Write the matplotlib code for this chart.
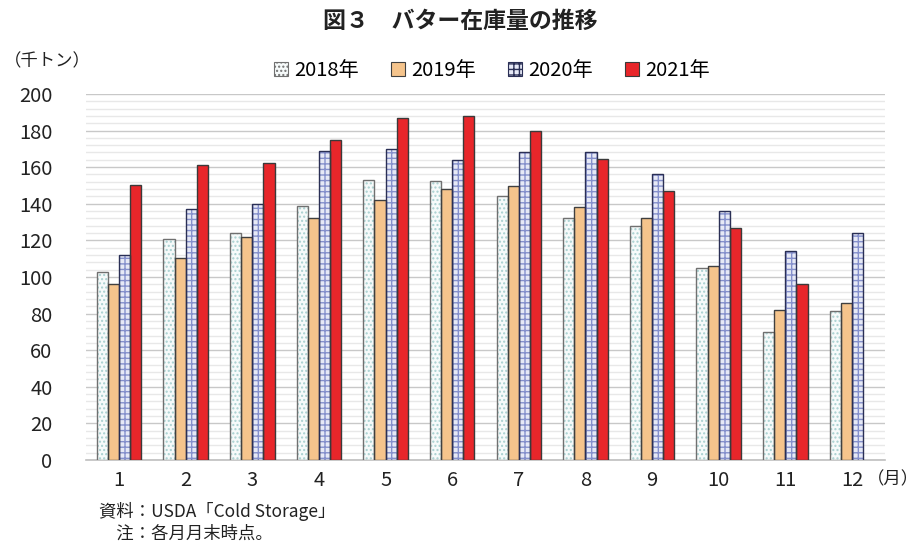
"""
図3 バター在庫量の推移 - 月別棒グラフ
"""

import numpy as np
import matplotlib
matplotlib.use('Agg')
import matplotlib.pyplot as plt
from matplotlib.ticker import MultipleLocator

plt.rcParams['font.family'] = ['Noto Sans CJK JP', 'DejaVu Sans']
plt.rcParams['hatch.linewidth'] = 1.0

# データ (千トン)
months = ['1', '2', '3', '4', '5', '6', '7', '8', '9', '10', '11', '12']
years = ['2018年', '2019年', '2020年', '2021年']
stock_2018 = [102.5, 120.5, 124, 139, 153, 152.5, 144.5, 132, 128, 105, 70, 81.5]
stock_2019 = [96, 110.5, 122, 132, 142, 148, 149.5, 138, 132, 106, 82, 86]
stock_2020 = [112, 137, 140, 169, 170, 164, 168.5, 168.5, 156, 136, 114, 124]
stock_2021 = [150.5, 161, 162, 175, 187, 188, 180, 164.5, 147, 126.5, 96, np.nan]

series = [stock_2018, stock_2019, stock_2020, stock_2021]

# 系列ごとのスタイル (塗り, ハッチ, ハッチ色, 枠線)
styles = [
    dict(face='#f6fafa', hatch='....', hcolor='#a8d0d0', edge='#707070'),
    dict(face='#f5c48c', hatch='', hcolor='#f5c48c', edge='#404040'),
    dict(face='#e6e9f6', hatch='+++', hcolor='#8590cc', edge='#2a2f55'),
    dict(face='#e8262a', hatch='', hcolor='#e8262a', edge='#3a3a3a'),
]

fig = plt.figure(figsize=(9.2, 5.46), dpi=100)
ax = fig.add_axes([0.0932, 0.1575, 0.869, 0.6705])

x = np.arange(1, len(months) + 1)
width = 0.167
offsets = (np.arange(4) - 1.5) * width

for vals, st, off, label in zip(series, styles, offsets, years):
    # ハッチ用 (枠線はハッチ色)
    ax.bar(x + off, vals, width, color=st['face'], hatch=st['hatch'],
           edgecolor=st['hcolor'], linewidth=0, zorder=3)
    # 枠線
    ax.bar(x + off, vals, width, facecolor='none', edgecolor=st['edge'],
           linewidth=1.0, zorder=4)
    # 凡例用のダミー
    ax.bar([0], [0], 0, facecolor=st['face'], hatch=st['hatch'],
           edgecolor=st['edge'], linewidth=0.8, label=label)

ax.set_xlim(0.5, 12.5)
ax.set_ylim(0, 200)
ax.set_xticks(x)
ax.set_xticklabels(months)
ax.yaxis.set_major_locator(MultipleLocator(20))
ax.yaxis.set_minor_locator(MultipleLocator(4))
ax.grid(which='major', axis='y', color='#c8c8c8', linewidth=1.0, zorder=0)
ax.grid(which='minor', axis='y', color='#e8e8e8', linewidth=1.0, zorder=0)
ax.set_axisbelow(True)

for s in ['top', 'right', 'left']:
    ax.spines[s].set_visible(False)
ax.spines['bottom'].set_color('#bfbfbf')
ax.spines['bottom'].set_linewidth(1.2)
ax.tick_params(axis='both', which='both', length=0, labelsize=14.5, colors='#222222')
ax.tick_params(axis='y', pad=24)
ax.tick_params(axis='x', pad=7)

fig.text(0.5, 0.96, '図３　バター在庫量の推移', ha='center', va='center',
         fontsize=16.5, fontweight='bold', color='#222222')
fig.text(0.004, 0.888, '（千トン）', ha='left', va='center', fontsize=12.5, color='#222222')
fig.text(0.999, 0.122, '（月）', ha='right', va='center', fontsize=12.5, color='#222222')

leg = ax.legend(loc='center', bbox_to_anchor=(0.508, 1.063), ncol=4, frameon=False,
                fontsize=14.5, handlelength=0.7, handleheight=0.7, handletextpad=0.3,
                columnspacing=1.6)

fig.text(0.108, 0.064, '資料：USDA「Cold Storage」', ha='left', va='center',
         fontsize=12.5, color='#222222')
fig.text(0.108, 0.022, '　注：各月月末時点。', ha='left', va='center',
         fontsize=12.5, color='#222222')

plt.savefig('out.png', dpi=100)
